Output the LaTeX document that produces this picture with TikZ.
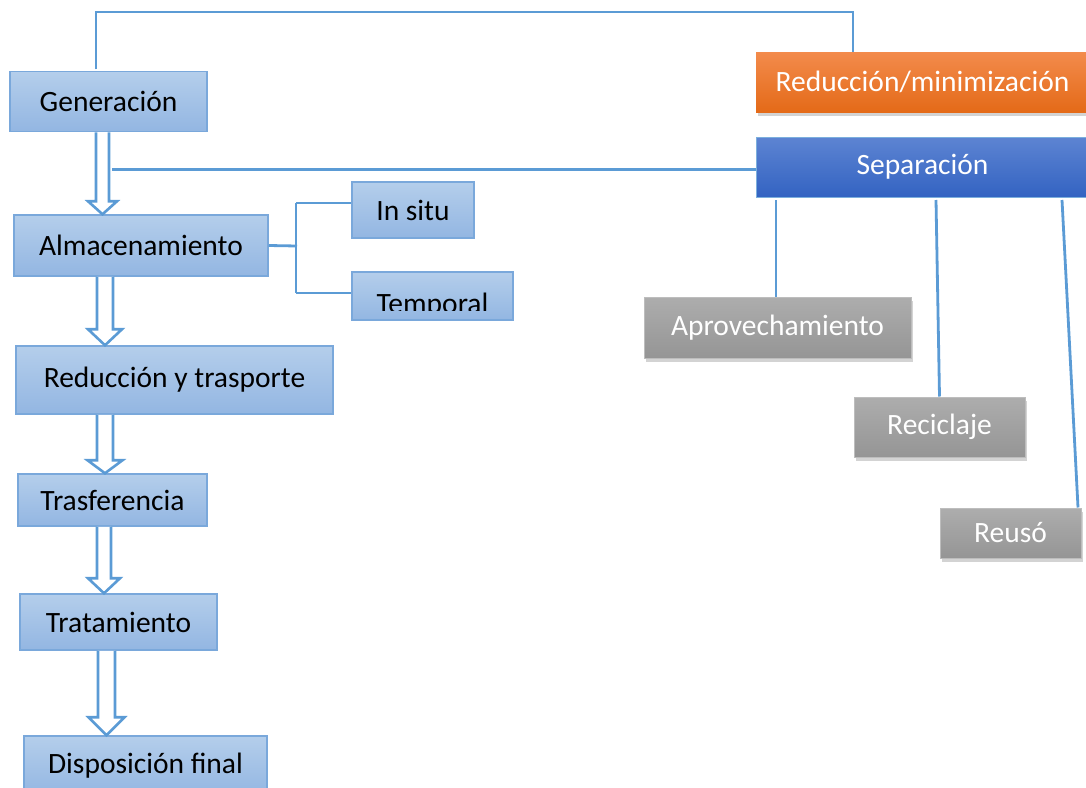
\documentclass[tikz,border=0pt]{standalone}
\usepackage{fontspec}
\setmainfont{Carlito}
\usetikzlibrary{shadows,calc}
\definecolor{lnblue}{HTML}{5B9BD5}
\definecolor{lbtop}{HTML}{B4CEEB}
\definecolor{lbbot}{HTML}{93B6E2}
\definecolor{lbdraw}{HTML}{7AA8DB}
\definecolor{ortop}{HTML}{F38B4C}
\definecolor{orbot}{HTML}{E46A18}
\definecolor{bltop}{HTML}{5D84D2}
\definecolor{blbot}{HTML}{3363C2}
\definecolor{grtop}{HTML}{ADADAD}
\definecolor{grbot}{HTML}{959595}
\newcommand{\bigfont}{\fontsize{29.5}{33}\selectfont}
\tikzset{
  conn/.style={draw=lnblue, line width=2.8pt},
  lbox/.style={draw=lbdraw, line width=1.5pt, top color=lbtop, bottom color=lbbot, inner sep=0pt, font=\bigfont, text=black},
  obox/.style={top color=ortop, bottom color=orbot, inner sep=0pt, font=\bigfont, text=white, drop shadow={opacity=0.35, shadow xshift=2pt, shadow yshift=-4pt}},
  bbox/.style={draw=lnblue!80, line width=1pt, top color=bltop, bottom color=blbot, inner sep=0pt, font=\bigfont, text=white},
  gbox/.style={draw=grtop!80!white, line width=1pt, top color=grtop, bottom color=grbot, inner sep=0pt, font=\bigfont, text=white, drop shadow={opacity=0.35, shadow xshift=2pt, shadow yshift=-4pt}},
  barrow/.style={draw=lnblue, line width=2.6pt, fill=white, line join=miter},
}
\newcommand{\blockarr}[6]{% from, to, xc, shaft half, head half, head length
  \path[barrow] let \p1=(#1.south), \p2=(#2.north) in
    ({#3pt-#4pt},\y1) -- ({#3pt-#4pt},{\y2+#6pt}) -- ({#3pt-#5pt},{\y2+#6pt}) -- (#3pt,\y2)
    -- ({#3pt+#5pt},{\y2+#6pt}) -- ({#3pt+#4pt},{\y2+#6pt}) -- ({#3pt+#4pt},\y1);
}
\begin{document}
\begin{tikzpicture}[x=1pt,y=-1pt]
\useasboundingbox (0,0) rectangle (1086,787);
\clip (0,0) rectangle (1086,787);
% left column
\node[lbox, minimum width=197pt, minimum height=60pt] (gen) at (108.5,101.5) {Generación};
\node[lbox, minimum width=254pt, minimum height=61pt] (alm) at (141,245.5) {Almacenamiento};
\node[lbox, minimum width=122pt, minimum height=56pt] (insitu) at (413,210) {In situ};
\node[lbox, minimum width=161pt, minimum height=48pt] (temporal) at (432.5,296) {};
\begin{scope}
\clip (352,272) rectangle (513,310);
\node[font=\bigfont, inner sep=0pt, anchor=base] (temptext) at (432.5,313) {Temporal};
\end{scope}
\node[lbox, minimum width=317pt, minimum height=68pt] (red) at (174.5,380) {Reducción y trasporte};
\node[lbox, minimum width=189pt, minimum height=52pt] (tras) at (112.5,500) {Trasferencia};
\node[lbox, minimum width=197pt, minimum height=56pt] (trat) at (118.5,622) {Tratamiento};
\node[lbox, minimum width=243pt, minimum height=60pt] (disp) at (145.5,766) {Disposición final};
% right column
\node[obox, minimum width=333pt, minimum height=60pt] (redmin) at (922.5,82) {Reducción/minimización};
\node[bbox, minimum width=333pt, minimum height=60pt] (sep) at (922.5,167) {Separación};
\node[gbox, minimum width=267pt, minimum height=61pt] (aprov) at (777.5,327.5) {Aprovechamiento};
\node[gbox, minimum width=171pt, minimum height=60pt] (recic) at (939.5,427) {Reciclaje};
\node[gbox, minimum width=141pt, minimum height=50pt] (reuso) at (1010.5,533) {Reusó};
% block arrows
\blockarr{gen}{alm}{102.5}{6.5}{14.5}{13}
\blockarr{alm}{red}{105}{8}{17}{16}
\blockarr{red}{tras}{105}{8}{17.5}{13}
\blockarr{tras}{trat}{104}{7}{16}{15}
\blockarr{trat}{disp}{106.5}{8.5}{18}{18}
% connectors
\coordinate (t1) at (96,12);
\coordinate (t2) at (853,12);
\draw[conn] ([yshift=1.5pt]gen.north -| t1) -- (t1) -- (t2) -- (t2 |- redmin.north);
\coordinate (s1) at (112,169.5);
\draw[conn] (s1) -- (s1 -| sep.west);
\coordinate (d1) at (776,200);
\coordinate (d2) at (936,200);
\coordinate (d3) at (1062,200);
\draw[conn] (d1) -- (d1 |- aprov.north);
\draw[conn] (d2) -- (recic.north);
\draw[conn] (d3) -- ([xshift=-3.5pt]reuso.north east);
\coordinate (b0) at (297,246);
\coordinate (b1) at (296,203);
\coordinate (b2) at (296,293);
\draw[conn] (alm.east) -- (b0);
\draw[conn] (b1) -- (b2);
\draw[conn] (b1) -- (b1 -| insitu.west);
\draw[conn] (b2) -- (b2 -| temporal.west);
\end{tikzpicture}
\end{document}
